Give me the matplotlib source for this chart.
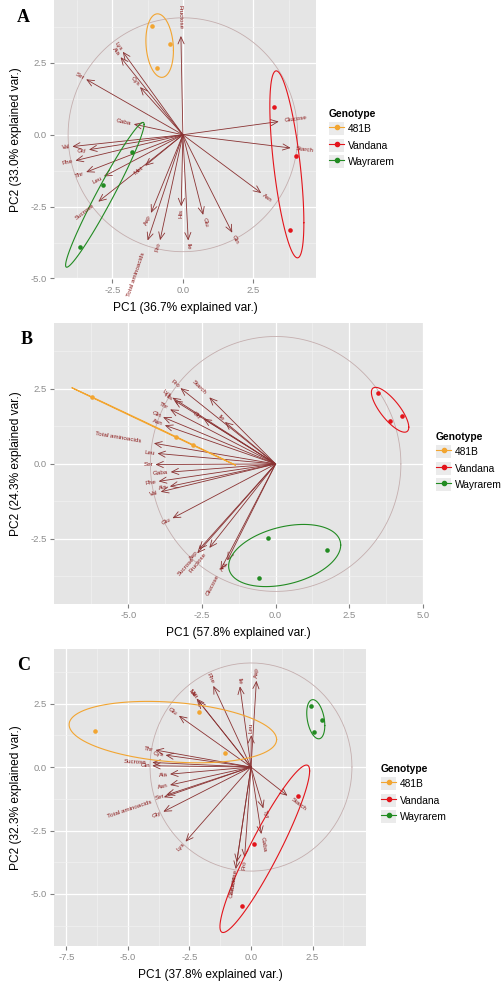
import numpy as np
import matplotlib.pyplot as plt
from matplotlib.lines import Line2D
from matplotlib.patches import Patch
from matplotlib.legend_handler import HandlerTuple

plt.rcParams['font.family'] = ['Liberation Sans', 'DejaVu Sans']

# ---- data ----
genotypes = ['481B', 'Vandana', 'Wayrarem']
sample_genotype = ['481B'] * 3 + ['Vandana'] * 3 + ['Wayrarem'] * 3

# panel A
a_pc1 = [-1.08, -0.46, -0.93, 3.24, 4.01, 3.81, -1.81, -2.84, -3.65]
a_pc2 = [3.80, 3.17, 2.34, 0.96, -0.73, -3.32, -0.61, -1.76, -3.90]
a_var = ['Fructose', 'Lys', 'Ala', 'Ser', 'Cys', 'Gaba', 'Val', 'Gly', 'Phe',
         'Thr', 'Leu', 'Sucrose', 'Met', 'Asp', 'Total aminoacids', 'Pro',
         'His', 'Ile', 'Glu', 'Gln', 'Asn', 'Glucose', 'Starch']
a_var_x = [-0.07, -2.13, -2.21, -3.43, -1.52, -1.74, -3.92, -3.33, -3.81,
           -3.43, -2.80, -3.00, -1.34, -1.13, -1.25, -0.81, -0.06, 0.19,
           0.72, 1.75, 2.78, 3.40, 3.82]
a_var_y = [3.44, 2.89, 2.70, 1.93, 1.66, 0.37, -0.41, -0.52, -0.90,
           -1.30, -1.45, -2.33, -1.08, -2.72, -3.68, -3.67, -2.49, -3.68,
           -2.79, -3.41, -2.03, 0.46, -0.46]
a_circle_r = 4.07

# panel B
b_pc1 = [-6.24, -3.38, -2.81, 3.46, 3.89, 4.30, -0.26, 1.75, -0.57]
b_pc2 = [2.23, 0.89, 0.64, 2.37, 1.44, 1.61, -2.47, -2.88, -3.81]
b_var = ['Pro', 'Starch', 'Lys', 'His', 'Thr', 'Gly', 'Ile', 'Gln', 'Asn',
         'Total aminoacids', 'Leu', 'Ser', 'Gaba', 'Phe', 'Ala', 'Val', 'Glu',
         'Asp', 'Sucrose', 'Fructose', 'Arg', 'Glucose']
b_var_x = [-3.23, -2.25, -3.50, -3.44, -3.58, -2.45, -1.72, -3.82, -3.76,
           -4.13, -4.01, -4.08, -3.56, -3.97, -3.59, -3.90, -3.50,
           -2.60, -2.66, -2.25, -1.64, -1.87]
b_var_y = [2.53, 2.22, 2.21, 2.12, 1.82, 1.51, 1.40, 1.56, 1.29,
           0.69, 0.35, -0.02, -0.27, -0.58, -0.75, -0.93, -1.81,
           -2.85, -2.98, -2.80, -3.22, -3.53]
b_circle_r = 4.25

# panel C
c_pc1 = [-6.34, -2.11, -1.07, 1.92, 0.14, -0.38, 2.43, 2.90, 2.56]
c_pc2 = [1.43, 2.15, 0.55, -1.13, -3.04, -5.49, 2.41, 1.85, 1.39]
c_var = ['Phe', 'Ile', 'Asp', 'Val', 'Met', 'Glu', 'Leu', 'Thr', 'Cys',
         'Sucrose', 'Gln', 'Ala', 'Asn', 'Ser', 'Total aminoacids', 'Gly',
         'Lys', 'Fructose', 'Glucose', 'Pro', 'Tyr', 'Gaba', 'Starch']
c_var_x = [-1.53, -0.45, 0.22, -2.21, -2.15, -2.93, 0.01, -3.88, -3.47,
           -4.01, -4.01, -3.29, -3.29, -3.43, -3.54, -3.56,
           -2.66, -0.58, -0.62, -0.26, 0.50, 0.42, 1.48]
c_var_y = [3.20, 3.18, 3.40, 2.70, 2.62, 2.02, 1.26, 0.67, 0.47,
           0.18, 0.05, -0.28, -0.71, -1.10, -1.19, -1.76,
           -2.94, -3.75, -4.02, -3.56, -1.63, -2.64, -1.13]
c_circle_r = 4.10

colors = {'481B': '#F2A531', 'Vandana': '#E3141B', 'Wayrarem': '#228B22'}
arrow_col = '#8A3333'
text_col = '#8B1A1A'
W, H = 503, 992


def ellipse_path(x, y, prob=0.68, n=100):
    pts = np.column_stack([x, y])
    mu = pts.mean(axis=0)
    sigma = np.cov(pts.T)
    L = np.linalg.cholesky(sigma)
    ed = np.sqrt(-2 * np.log(1 - prob))
    t = np.linspace(0, 2 * np.pi, n)
    circ = np.column_stack([np.cos(t), np.sin(t)])
    ell = mu + ed * circ @ L.T
    return ell[:, 0], ell[:, 1]


def biplot(ax, pc1, pc2, var, vx, vy, r, xlim, ylim, xticks, yticks, xlab, ylab):
    ax.set_facecolor('#E5E5E5')
    ax.set_xticks(xticks)
    ax.set_yticks(yticks)
    ax.set_xticklabels(['%.1f' % v for v in xticks])
    ax.set_yticklabels(['%.1f' % v for v in yticks])
    step = xticks[1] - xticks[0]
    ax.set_xticks(np.arange(xticks[0] - step * 1.5, xticks[-1] + step, step), minor=True)
    ax.set_yticks(np.arange(yticks[0] - step * 1.5, yticks[-1] + step, step), minor=True)
    ax.set_xlim(xlim)
    ax.set_ylim(ylim)
    ax.grid(which='major', color='white', lw=0.9)
    ax.grid(which='minor', color='#F2F2F2', lw=0.45)
    ax.set_axisbelow(True)
    for s in ax.spines.values():
        s.set_visible(False)
    ax.tick_params(which='major', length=3, color='#7F7F7F', labelcolor='#8C8C8C',
                   labelsize=6.8, pad=2)
    ax.tick_params(which='minor', length=0)
    ax.set_xlabel(xlab, fontsize=8.6, labelpad=5)
    ax.set_ylabel(ylab, fontsize=8.6, labelpad=6)

    # correlation circle
    t = np.linspace(0, 2 * np.pi, 200)
    ax.plot(r * np.cos(t), r * np.sin(t), color='#C4AEAE', lw=0.6, zorder=2)

    # variable arrows
    for name, x, y in zip(var, vx, vy):
        ax.annotate('', xy=(x, y), xytext=(0, 0),
                    arrowprops=dict(arrowstyle='->,head_length=0.5,head_width=0.22',
                                    color=arrow_col, lw=0.6, shrinkA=0, shrinkB=0),
                    zorder=3)
        ang = np.degrees(np.arctan(y / x))
        d = np.hypot(x, y)
        fs = 4.5
        off = 0.25 * len(name) * 0.52 * fs
        ax.annotate(name, xy=(x, y), xytext=(off * x / d, off * y / d),
                    textcoords='offset points', rotation=ang, rotation_mode='anchor',
                    ha='left' if x > 0 else 'right', va='center',
                    fontsize=fs, color=text_col, zorder=5)

    # samples and ellipses
    g = np.array(sample_genotype)
    p1 = np.array(pc1)
    p2 = np.array(pc2)
    for gt in genotypes:
        m = g == gt
        ax.plot(p1[m], p2[m], 'o', color=colors[gt], ms=3.3, mec='none', zorder=6)
        ex, ey = ellipse_path(p1[m], p2[m])
        ax.plot(ex, ey, color=colors[gt], lw=0.8, zorder=4)


def px_axes(l, t, r, b):
    return fig.add_axes([l / W, 1 - b / H, (r - l) / W, (b - t) / H])


def add_legend(x, y):
    handles = [(Patch(facecolor='#EBEBEB', edgecolor='none'),
                Line2D([], [], color=colors[gt], marker='o', ms=3, lw=0.8))
               for gt in genotypes]
    leg = fig.legend(handles, genotypes, loc='upper left',
                     bbox_to_anchor=(x / W, 1 - y / H), frameon=False,
                     title='Genotype', fontsize=7.4, title_fontsize=7.4,
                     handler_map={tuple: HandlerTuple(ndivide=1, pad=0)},
                     handlelength=1.5, handleheight=1.6, handletextpad=0.35,
                     labelspacing=0.32, borderpad=0, borderaxespad=0,
                     alignment='left')
    leg.get_title().set_fontweight('bold')


fig = plt.figure(figsize=(W / 100, H / 100), dpi=100)

axA = px_axes(54, 0, 316, 279)
biplot(axA, a_pc1, a_pc2, a_var, a_var_x, a_var_y, a_circle_r,
       (-4.57, 4.72), (-5.02, 4.69), [-2.5, 0.0, 2.5], [-5.0, -2.5, 0.0, 2.5],
       'PC1 (36.7% explained var.)', 'PC2 (33.0% explained var.)')

axB = px_axes(54, 323, 423, 604)
biplot(axB, b_pc1, b_pc2, b_var, b_var_x, b_var_y, b_circle_r,
       (-7.52, 5.0), (-4.67, 4.7), [-5.0, -2.5, 0.0, 2.5, 5.0], [-2.5, 0.0, 2.5],
       'PC1 (57.8% explained var.)', 'PC2 (24.3% explained var.)')

axC = px_axes(54, 649, 366, 946)
biplot(axC, c_pc1, c_pc2, c_var, c_var_x, c_var_y, c_circle_r,
       (-8.0, 4.67), (-7.05, 4.65), [-7.5, -5.0, -2.5, 0.0, 2.5], [-5.0, -2.5, 0.0, 2.5],
       'PC1 (37.8% explained var.)', 'PC2 (32.3% explained var.)')

add_legend(329, 109)
add_legend(436, 432)
add_legend(381, 764)

for lab, (x, y) in zip(['A', 'B', 'C'], [(23, 18), (27, 339), (24, 665)]):
    fig.text(x / W, 1 - y / H, lab, fontsize=13, fontweight='bold',
             family='Liberation Serif', ha='center', va='center')

fig.savefig('out.png', dpi=100)
